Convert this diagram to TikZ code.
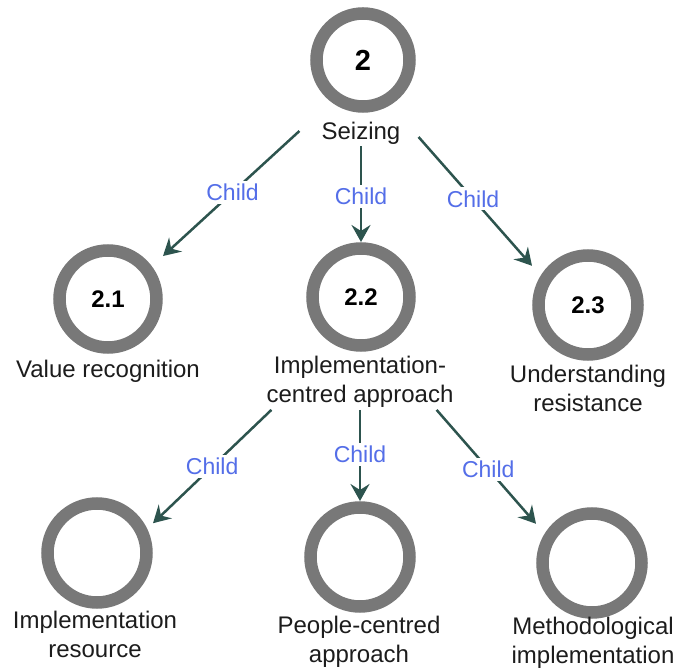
\documentclass[tikz,border=0pt]{standalone}
\usepackage{fontspec}
\setmainfont{Liberation Sans}
\usetikzlibrary{arrows.meta}
\definecolor{ringgray}{RGB}{120,120,120}
\definecolor{edgeteal}{RGB}{45,84,78}
\definecolor{childblue}{RGB}{84,110,232}
\definecolor{labelink}{RGB}{28,28,28}
\begin{document}
\begin{tikzpicture}[x=1pt,y=1pt,
  ringnode/.style={rectangle, inner sep=0pt, outer sep=0pt, minimum size=#1,
    font=\fontsize{24}{24}\selectfont\bfseries,
    path picture={\draw[ringgray, line width=12.5pt]
      (path picture bounding box.center) circle[radius=#1/2-6.5pt];}},
  ringnode/.default=112pt,
  caption/.style={align=center, font=\fontsize{24}{29}\selectfont,
    text=labelink, inner sep=2pt},
  childedge/.style={draw=edgeteal, line width=2.5pt,
    -{Stealth[length=17pt,width=19pt,inset=6pt]}},
  childtag/.style={fill=white, text=childblue,
    font=\fontsize{23}{23}\selectfont, inner sep=3pt}
]
\useasboundingbox (0,0) rectangle (678,670);

% theme nodes
\node[ringnode=106pt, font=\fontsize{29}{29}\selectfont\bfseries] (c2) at (363,610) {2};
\node[ringnode=110pt] (c21) at (108,371) {2.1};
\node[ringnode=110pt] (c22) at (361,373) {2.2};
\node[ringnode] (c23) at (588,365) {2.3};
\node[ringnode] (c31) at (97,117) {};
\node[ringnode] (c32) at (360,113) {};
\node[ringnode] (c33) at (592,107) {};

% captions
\node[caption] (sz) at (361,537) {Seizing};
\node[caption] (vr) at (108,299) {Value recognition};
\node[caption] (ic) at (360,288) {Implementation-\\centred approach};
\node[caption] (ur) at (588,282) {Understanding\\resistance};
\node[caption] (ir) at (95,36) {Implementation\\resource};
\node[caption] (pc) at (359,28) {People-centred\\approach};
\node[caption] (mi) at (593,27) {Methodological\\implementation};

% child relations
\draw[childedge] ([xshift=-20pt,yshift=2pt]sz.west) -- node[childtag,pos=0.49] {Child} (c21.38);
\draw[childedge] (sz.south) -- node[childtag,pos=0.52] {Child} (c22.north);
\draw[childedge] ([xshift=16pt,yshift=-4pt]sz.east) -- node[childtag,pos=0.48] {Child} (c23.145);
\draw[childedge] ([xshift=7pt]ic.south west) -- node[childtag,pos=0.5] {Child} (c31.28);
\draw[childedge] (ic.south) -- node[childtag,pos=0.49] {Child} (c32.north);
\draw[childedge] ([xshift=-19pt]ic.south east) -- node[childtag,pos=0.52] {Child} (c33.145);
\end{tikzpicture}
\end{document}
